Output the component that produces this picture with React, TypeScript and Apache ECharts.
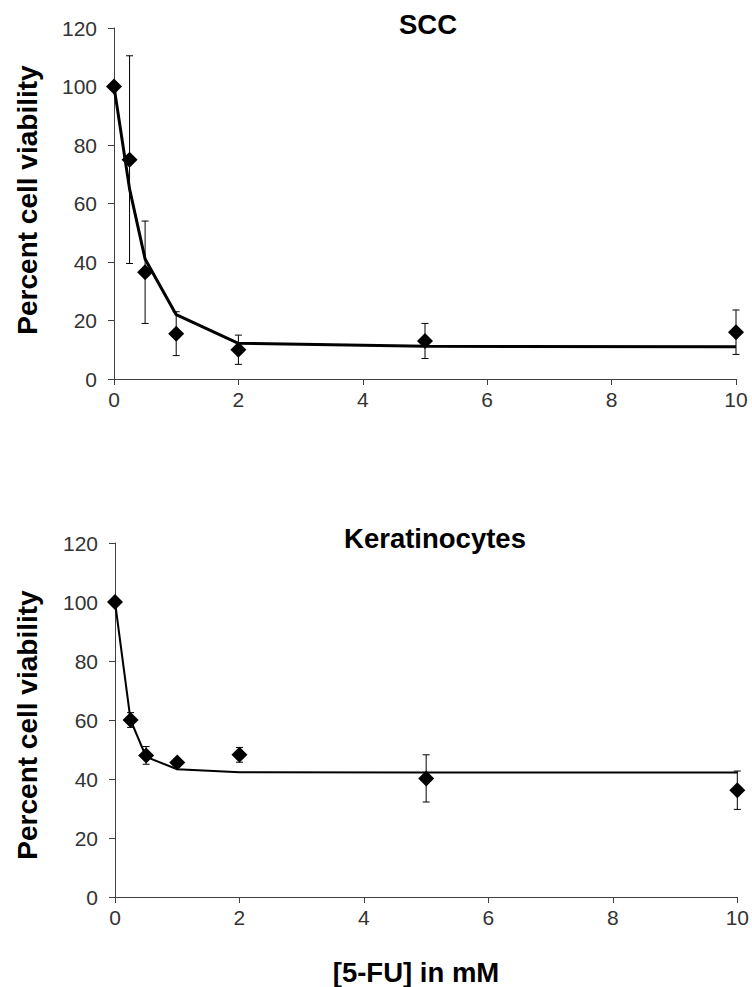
import React, { useEffect, useRef } from "react";
import * as echarts from "echarts";

// Concentration of 5-FU (mM)
const doses = [0, 0.25, 0.5, 1, 2, 5, 10];

// SCC panel
const sccMean = [100, 75, 36.5, 15.5, 10, 13, 16];
const sccErr = [0, 35.5, 17.5, 7.5, 5, 6, 7.6];
const sccFit = [100, 65, 41, 22, 12.2, 11.2, 11];

// Keratinocytes panel
const kerMean = [100, 60, 48, 45.6, 48.2, 40.2, 36.2];
const kerErr = [0, 2.5, 3, 1.2, 2.5, 8, 6.5];
const kerFit = [100, 60, 47.5, 43.3, 42.3, 42.2, 42.2];

const titles = ["SCC", "Keratinocytes"];
const yName = "Percent cell viability";
const xName = "[5-FU] in mM";

const FONT = "'Liberation Sans', Arial, sans-serif";

const pairs = (xs: number[], ys: number[]) => xs.map((x, i) => [x, ys[i]]);
const errData = (xs: number[], m: number[], e: number[]) =>
  xs
    .map((x, i) => [x, m[i] - e[i], m[i] + e[i], e[i]])
    .filter((d) => d[3] > 0);

const errRender = (params: any, api: any) => {
  const x = api.value(0);
  const lo = api.value(1);
  const hi = api.value(2);
  const pTop = api.coord([x, hi]);
  const pBot = api.coord([x, lo]);
  const w = 3.5;
  const style = { stroke: "#000", lineWidth: 1 };
  return {
    type: "group",
    children: [
      { type: "line", shape: { x1: pTop[0], y1: pTop[1], x2: pBot[0], y2: pBot[1] }, style },
      { type: "line", shape: { x1: pTop[0] - w, y1: pTop[1], x2: pTop[0] + w, y2: pTop[1] }, style },
      { type: "line", shape: { x1: pBot[0] - w, y1: pBot[1], x2: pBot[0] + w, y2: pBot[1] }, style },
    ],
  };
};

export default function App() {
  const ref = useRef<HTMLDivElement>(null);
  useEffect(() => {
    if (!ref.current) return;
    const chart = echarts.init(ref.current, null, { renderer: "svg" });
    const axisCommon = {
      axisLine: { show: true, lineStyle: { color: "#404040", width: 1 } },
      axisTick: { show: true, length: 6, lineStyle: { color: "#404040" } },
      splitLine: { show: false },
    };
    const xAxis = (gi: number) => ({
      type: "value",
      gridIndex: gi,
      min: 0,
      max: 10,
      interval: 2,
      ...axisCommon,
      axisLabel: { color: "#333", fontSize: 21, fontFamily: FONT, margin: 10 },
    });
    const yAxis = (gi: number) => ({
      type: "value",
      gridIndex: gi,
      min: 0,
      max: 120,
      interval: 20,
      ...axisCommon,
      axisLabel: { color: "#333", fontSize: 21, fontFamily: FONT, margin: 17 },
    });
    const panel = (gi: number, mean: number[], err: number[], fit: number[], lw: number) => [
      {
        type: "custom",
        xAxisIndex: gi,
        yAxisIndex: gi,
        data: errData(doses, mean, err),
        encode: { x: 0, y: [1, 2] },
        renderItem: errRender,
        clip: false,
        z: 2,
      },
      {
        type: "line",
        xAxisIndex: gi,
        yAxisIndex: gi,
        data: pairs(doses, fit),
        showSymbol: false,
        symbol: "none",
        lineStyle: { color: "#000", width: lw },
        z: 3,
      },
      {
        type: "scatter",
        xAxisIndex: gi,
        yAxisIndex: gi,
        data: pairs(doses, mean),
        symbol: "diamond",
        symbolSize: 16,
        itemStyle: { color: "#000", opacity: 1 },
        clip: false,
        z: 4,
      },
    ];
    const bold = { fontFamily: FONT, fontWeight: "bold", fontSize: 27.5, fill: "#000" };
    chart.setOption({
      animation: false,
      backgroundColor: "#fff",
      grid: [
        { left: 114, top: 28, width: 622, height: 351 },
        { left: 115, top: 543, width: 625, height: 354 },
      ],
      xAxis: [xAxis(0), xAxis(1)],
      yAxis: [yAxis(0), yAxis(1)],
      series: [
        ...panel(0, sccMean, sccErr, sccFit, 3),
        ...panel(1, kerMean, kerErr, kerFit, 2),
      ],
      graphic: [
        { type: "text", x: 428, y: 24, style: { ...bold, text: titles[0], textAlign: "center", textVerticalAlign: "middle" } },
        { type: "text", x: 435, y: 538, style: { ...bold, text: titles[1], textAlign: "center", textVerticalAlign: "middle" } },
        { type: "text", x: 27, y: 200, rotation: Math.PI / 2, style: { ...bold, fontSize: 28, text: yName, textAlign: "center", textVerticalAlign: "middle" } },
        { type: "text", x: 27, y: 725, rotation: Math.PI / 2, style: { ...bold, fontSize: 28, text: yName, textAlign: "center", textVerticalAlign: "middle" } },
        { type: "text", x: 416, y: 972, style: { ...bold, text: xName, textAlign: "center", textVerticalAlign: "middle" } },
      ],
    });
    return () => chart.dispose();
  }, []);
  return (
    <div
      ref={ref}
      style={{ position: "absolute", left: 0, top: 0, width: 752, height: 987, background: "#fff" }}
    />
  );
}
